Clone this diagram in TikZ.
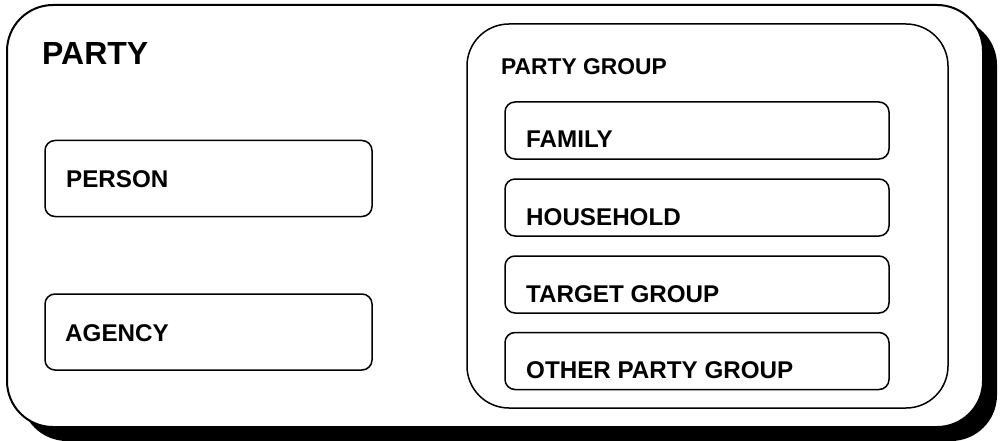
\documentclass[tikz,border=0pt]{standalone}
\usepackage{fontspec}
\setmainfont{Liberation Sans}
\begin{document}
\begin{tikzpicture}[x=1pt,y=-1pt,
  box/.style={draw=black, fill=white, rectangle, inner sep=0pt, outer sep=0pt},
  outerbox/.style={box, line width=2pt, rounded corners=46pt, minimum width=976pt, minimum height=422pt},
  shadowbox/.style={fill=black, rectangle, inner sep=0pt, outer sep=0pt, rounded corners=46pt, minimum width=976pt, minimum height=422pt},
  groupbox/.style={box, line width=1.5pt, rounded corners=42pt, minimum width=481pt, minimum height=384pt},
  itembox/.style={box, line width=1.5pt, rounded corners=10pt, minimum width=384pt, minimum height=57pt},
  sidebox/.style={box, line width=1.5pt, rounded corners=10pt, minimum width=327pt, minimum height=76pt},
  lbl/.style={anchor=base west, inner sep=0pt, font=\fontsize{24.2}{27}\selectfont\bfseries},
  biglbl/.style={anchor=base west, inner sep=0pt, font=\fontsize{32}{35}\selectfont\bfseries},
  grouplbl/.style={anchor=base west, inner sep=0pt, font=\fontsize{22.8}{25}\selectfont\bfseries}
]
\useasboundingbox (0,0) rectangle (1001,441);
\node[shadowbox] (shadow) at (509,230) {};
\node[outerbox] (party) at (495,216) {};
\node[biglbl] (partylbl) at (42,65) {PARTY};
\node[groupbox] (group) at (707.5,216) {};
\node[grouplbl] (grouplbl) at (501,75) {PARTY GROUP};
\node[itembox] (family) at (697,130.5) {};
\node[itembox] (household) at (697,207.5) {};
\node[itembox] (target) at (697,284.5) {};
\node[itembox] (other) at (697,361) {};
\node[lbl] (familylbl) at (526,148) {FAMILY};
\node[lbl] (householdlbl) at (526,225) {HOUSEHOLD};
\node[lbl] (targetlbl) at (526,302) {TARGET GROUP};
\node[lbl] (otherlbl) at (526,378) {OTHER PARTY GROUP};
\node[sidebox] (person) at (208.5,178.5) {};
\node[sidebox] (agency) at (208.5,332) {};
\node[lbl] (personlbl) at (66,187) {PERSON};
\node[lbl] (agencylbl) at (65,341) {AGENCY};
\end{tikzpicture}
\end{document}
